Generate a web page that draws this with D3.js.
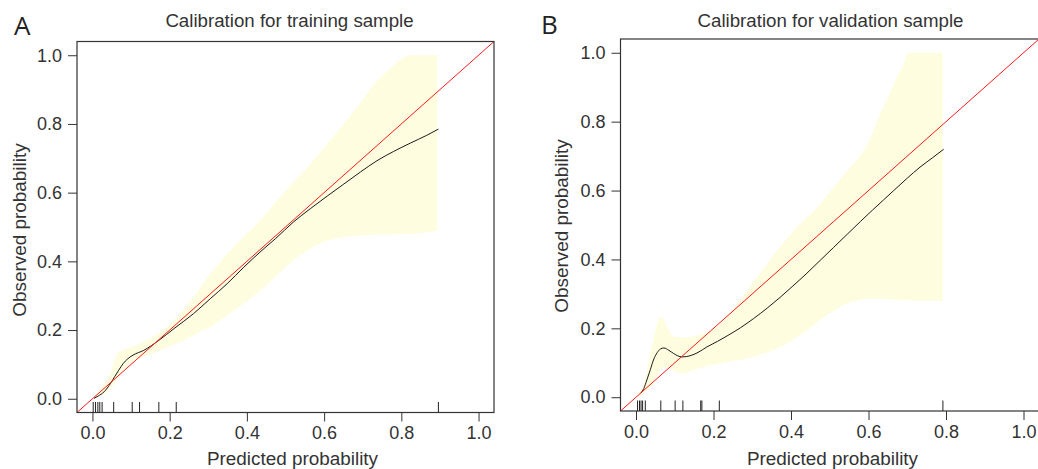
<!DOCTYPE html>
<html><head><meta charset="utf-8">
<script src="https://cdn.jsdelivr.net/npm/d3@7"></script>
<style>
body{margin:0;background:#fff}
svg{display:block}
</style>
</head><body>
<svg id="chart" width="1038" height="469"></svg>
<script>
// ---------- DATA ----------
const panelLetters = ["A", "B"];
const panelTitles = ["Calibration for training sample", "Calibration for validation sample"];
const xAxisTitle = "Predicted probability";
const yAxisTitle = "Observed probability";
const tickValues = [0, 0.2, 0.4, 0.6, 0.8, 1.0];
const tickLabels = ["0.0", "0.2", "0.4", "0.6", "0.8", "1.0"];
const axisDomain = [-0.04, 1.04];

// Training sample: smoothed observed curve [predicted, observed]
const trainCurve = [
  [0.004,0.001],[0.015,0.008],[0.03,0.02],[0.047,0.045],[0.058,0.065],[0.068,0.083],
  [0.08,0.103],[0.09,0.115],[0.105,0.127],[0.133,0.141],[0.172,0.17],[0.211,0.204],
  [0.262,0.248],[0.305,0.291],[0.349,0.335],[0.392,0.383],[0.444,0.437],[0.474,0.466],
  [0.521,0.515],[0.564,0.553],[0.608,0.59],[0.651,0.625],[0.694,0.66],[0.737,0.693],
  [0.78,0.72],[0.823,0.744],[0.866,0.767],[0.896,0.785]
];
// Training sample: confidence band [predicted, lower, upper]
const trainBand = [
  [0.003,0.0,0.005],[0.02,0.008,0.03],[0.035,0.016,0.052],[0.047,0.03,0.075],
  [0.058,0.045,0.115],[0.066,0.058,0.135],[0.075,0.074,0.141],[0.09,0.095,0.146],
  [0.11,0.112,0.155],[0.133,0.122,0.166],[0.155,0.131,0.179],[0.176,0.141,0.195],
  [0.2,0.152,0.217],[0.219,0.161,0.238],[0.24,0.172,0.265],[0.262,0.185,0.296],
  [0.283,0.197,0.33],[0.305,0.209,0.364],[0.327,0.225,0.393],[0.349,0.243,0.422],
  [0.37,0.26,0.447],[0.392,0.277,0.472],[0.435,0.316,0.52],[0.478,0.359,0.577],
  [0.521,0.403,0.63],[0.564,0.437,0.683],[0.607,0.459,0.741],[0.651,0.47,0.8],
  [0.694,0.475,0.862],[0.737,0.478,0.925],[0.775,0.479,0.965],[0.814,0.48,0.998],
  [0.823,0.48,1.0],[0.866,0.485,1.0],[0.893,0.49,1.0]
];
const trainRug = [0.002,0.008,0.014,0.019,0.025,0.055,0.103,0.122,0.172,0.217,0.896];

// Validation sample
const validCurve = [
  [0.013,0.013],[0.02,0.025],[0.028,0.05],[0.037,0.08],[0.045,0.108],[0.055,0.13],
  [0.063,0.14],[0.072,0.143],[0.085,0.136],[0.097,0.127],[0.108,0.12],[0.119,0.117],
  [0.13,0.118],[0.144,0.122],[0.16,0.13],[0.183,0.146],[0.21,0.162],[0.235,0.178],
  [0.27,0.202],[0.303,0.228],[0.34,0.26],[0.372,0.29],[0.405,0.323],[0.441,0.36],
  [0.475,0.397],[0.51,0.435],[0.545,0.473],[0.579,0.51],[0.61,0.543],[0.639,0.573],
  [0.665,0.6],[0.7,0.636],[0.733,0.668],[0.765,0.695],[0.794,0.72]
];
const validBand = [
  [0.005,0.0,0.005],[0.02,0.01,0.04],[0.03,0.02,0.09],[0.045,0.04,0.17],
  [0.055,0.06,0.215],[0.063,0.08,0.232],[0.07,0.088,0.228],[0.085,0.085,0.195],
  [0.097,0.077,0.176],[0.11,0.07,0.174],[0.123,0.068,0.174],[0.135,0.073,0.175],
  [0.149,0.079,0.177],[0.174,0.088,0.185],[0.217,0.098,0.212],[0.26,0.107,0.27],
  [0.303,0.117,0.335],[0.35,0.135,0.405],[0.39,0.156,0.462],[0.407,0.168,0.484],
  [0.44,0.192,0.52],[0.475,0.224,0.561],[0.51,0.25,0.61],[0.544,0.272,0.655],
  [0.561,0.278,0.677],[0.604,0.286,0.75],[0.63,0.286,0.822],[0.65,0.285,0.87],
  [0.673,0.284,0.928],[0.69,0.282,0.965],[0.703,0.281,1.0],[0.75,0.28,1.0],[0.792,0.28,1.0]
];
const validRug = [0.004,0.009,0.013,0.017,0.024,0.064,0.101,0.121,0.167,0.170,0.215,0.792];

// ---------- LAYOUT ----------
const panels = [
  {letter: panelLetters[0], title: panelTitles[0], curve: trainCurve, band: trainBand, rug: trainRug,
   left: 77, right: 494, top: 41.5, bottom: 412.5,
   letterX: 14, letterY: 35, titleX: 289.5, titleY: 26.5, xlabX: 292.5, xlabY: 465, ylabX: 26, ylabY: 230},
  {letter: panelLetters[1], title: panelTitles[1], curve: validCurve, band: validBand, rug: validRug,
   left: 620.5, right: 1039, top: 39, bottom: 411,
   letterX: 541, letterY: 33.5, titleX: 830.5, titleY: 26.5, xlabX: 832.5, xlabY: 465, ylabX: 568, ylabY: 226}
];

const FONT = '"Liberation Sans", Arial, Helvetica, sans-serif';
const svg = d3.select("#chart");

panels.forEach((p, i) => {
  const x = d3.scaleLinear().domain(axisDomain).range([p.left, p.right]);
  const y = d3.scaleLinear().domain(axisDomain).range([p.bottom, p.top]);
  const g = svg.append("g");

  const clipId = "clip" + i;
  svg.append("defs").append("clipPath").attr("id", clipId)
    .append("rect").attr("x", p.left).attr("y", p.top)
    .attr("width", p.right - p.left).attr("height", p.bottom - p.top);

  const plot = g.append("g").attr("clip-path", `url(#${clipId})`);

  // confidence band
  plot.append("path")
    .datum(p.band)
    .attr("fill", "#fffde0")
    .attr("stroke", "none")
    .attr("d", d3.area().x(d => x(d[0])).y0(d => y(d[1])).y1(d => y(d[2])).curve(d3.curveMonotoneX));

  // observed curve
  plot.append("path")
    .datum(p.curve)
    .attr("fill", "none")
    .attr("stroke", "#1a1a1a")
    .attr("stroke-width", 1)
    .attr("d", d3.line().x(d => x(d[0])).y(d => y(d[1])).curve(d3.curveMonotoneX));

  // ideal line
  plot.append("path")
    .datum(axisDomain)
    .attr("fill", "none")
    .attr("stroke", "#ff1a1a")
    .attr("stroke-width", 1)
    .attr("d", d3.line().x(d => x(d)).y(d => y(d)));

  // rug
  plot.selectAll("line.rug").data(p.rug).join("line")
    .attr("class", "rug")
    .attr("x1", d => x(d)).attr("x2", d => x(d))
    .attr("y1", p.bottom).attr("y2", p.bottom - 10.5)
    .attr("stroke", "#222").attr("stroke-width", 1);

  // axes
  const xa = g.append("g").attr("transform", `translate(0,${p.bottom})`)
    .call(d3.axisBottom(x).tickValues(tickValues).tickFormat((d, k) => tickLabels[k]).tickSize(9).tickPadding(5));
  const ya = g.append("g").attr("transform", `translate(${p.left},0)`)
    .call(d3.axisLeft(y).tickValues(tickValues).tickFormat((d, k) => tickLabels[k]).tickSize(9).tickPadding(6));
  [xa, ya].forEach(a => {
    a.select(".domain").remove();
    a.selectAll(".tick line").attr("stroke", "#333").attr("stroke-width", 1);
    a.selectAll(".tick text").attr("fill", "#333").style("font-family", FONT).style("font-size", "18px");
  });

  // box
  g.append("rect")
    .attr("x", p.left).attr("y", p.top)
    .attr("width", p.right - p.left).attr("height", p.bottom - p.top)
    .attr("fill", "none").attr("stroke", "#333").attr("stroke-width", 1.2);

  // texts
  g.append("text").attr("x", p.titleX).attr("y", p.titleY)
    .attr("text-anchor", "middle").attr("fill", "#333")
    .style("font-family", FONT).style("font-size", "18.7px").text(p.title);
  g.append("text").attr("x", p.xlabX).attr("y", p.xlabY)
    .attr("text-anchor", "middle").attr("fill", "#333")
    .style("font-family", FONT).style("font-size", "18.9px").text(xAxisTitle);
  g.append("text").attr("transform", `translate(${p.ylabX},${p.ylabY}) rotate(-90)`)
    .attr("text-anchor", "middle").attr("fill", "#333")
    .style("font-family", FONT).style("font-size", "18.9px").text(yAxisTitle);
  g.append("text").attr("x", p.letterX).attr("y", p.letterY)
    .attr("fill", "#222")
    .style("font-family", '"Open Sans", "Noto Sans", sans-serif').style("font-size", "26px").text(p.letter);
});
</script>
</body></html>
